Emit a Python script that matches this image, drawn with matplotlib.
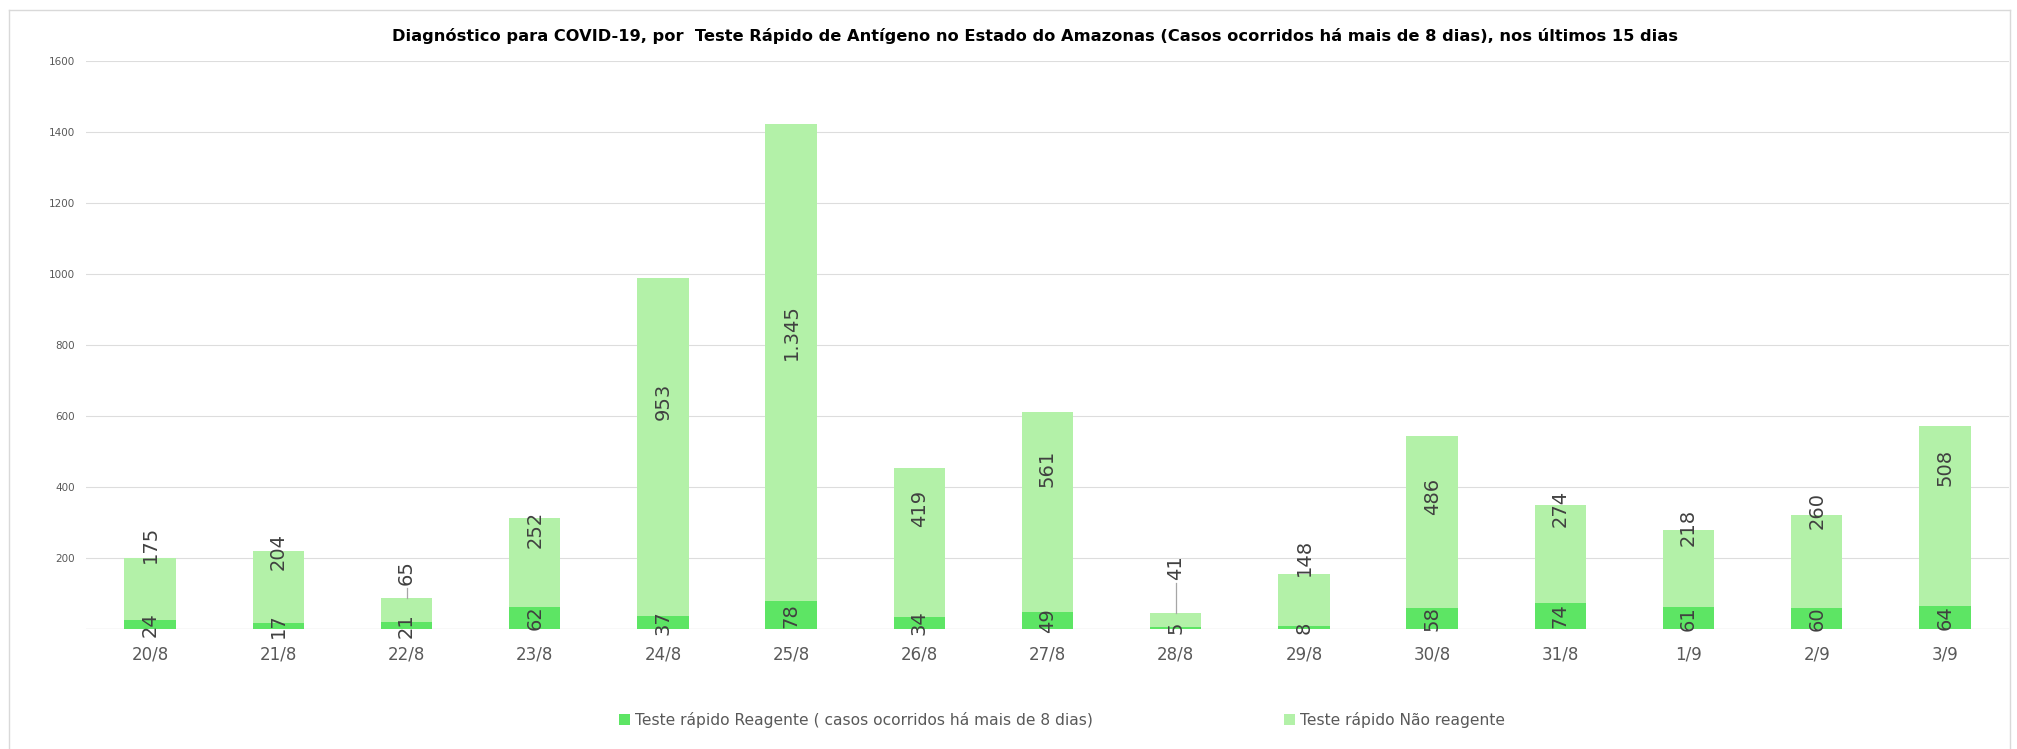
import matplotlib
matplotlib.use("Agg")
import matplotlib.pyplot as plt
from matplotlib.lines import Line2D
import numpy as np

# dados
dias = ["20/8", "21/8", "22/8", "23/8", "24/8", "25/8", "26/8", "27/8",
        "28/8", "29/8", "30/8", "31/8", "1/9", "2/9", "3/9"]
reagente = [24, 17, 21, 62, 37, 78, 34, 49, 5, 8, 58, 74, 61, 60, 64]
nao_reagente = [175, 204, 65, 252, 953, 1345, 419, 561, 41, 148, 486, 274, 218, 260, 508]
# altura (em casos) onde o rótulo de "Não reagente" foi colocado
rotulo_nao_y = [237, 218, 159, 282, 640, 837, 341, 452, 173, 201, 373, 339, 286, 334, 455]
yticks = [200, 400, 600, 800, 1000, 1200, 1400, 1600]

cor_reag = "#5de564"
cor_nao = "#b3f1a8"
cinza = "#595959"

def fmt(v):
    return f"{v:,}".replace(",", ".")

fig = plt.figure(figsize=(20.17, 7.49), dpi=100)
ax = fig.add_axes([86 / 2017, 120 / 749, 1923 / 2017, 568 / 749])

x = np.arange(len(dias))
b1 = ax.bar(x, reagente, width=0.4, color=cor_reag, label="Teste rápido Reagente ( casos ocorridos há mais de 8 dias)", zorder=3)
b2 = ax.bar(x, nao_reagente, width=0.4, bottom=reagente, color=cor_nao, label="Teste rápido Não reagente", zorder=3)

ax.set_xlim(-0.5, len(dias) - 0.5)
ax.set_ylim(0, 1600)
ax.set_yticks(yticks)
ax.set_yticklabels([str(t) for t in yticks], fontsize=7.5, color=cinza)
ax.set_xticks(x)
ax.set_xticklabels(dias, fontsize=12, color=cinza)
ax.tick_params(axis="both", length=0)
ax.tick_params(axis="x", pad=12)
ax.tick_params(axis="y", pad=8)
for s in ax.spines.values():
    s.set_visible(False)
ax.grid(axis="y", color="#dddddd", linewidth=0.8, zorder=0)
ax.axhline(0, color="#dddddd", linewidth=1.0, zorder=2)

# rótulos
for i in range(len(dias)):
    ax.text(x[i], reagente[i] / 2, fmt(reagente[i]), rotation=90, ha="center", va="center",
            fontsize=14, color="#404040", zorder=5)
labels_nao = []
for i in range(len(dias)):
    t = ax.text(x[i], rotulo_nao_y[i], fmt(nao_reagente[i]), rotation=90, ha="center", va="center",
                fontsize=14, color="#404040", zorder=5)
    labels_nao.append(t)

# linhas de chamada quando o rótulo fica acima da barra
fig.canvas.draw()
inv = ax.transData.inverted()
for i, t in enumerate(labels_nao):
    bb = t.get_window_extent()
    base = inv.transform((bb.x0, bb.y0 - 3))[1]
    topo = reagente[i] + nao_reagente[i]
    if base - topo > 20:
        ax.plot([x[i], x[i]], [topo, base], color="#a6a6a6", linewidth=0.9, zorder=4)

fig.suptitle("Diagnóstico para COVID-19, por  Teste Rápido de Antígeno no Estado do Amazonas (Casos ocorridos há mais de 8 dias), nos últimos 15 dias",
             x=1035 / 2017, y=1 - 36 / 749, va="center", fontsize=11.7, fontweight="bold",
             color="#000000")

leg = fig.legend(handles=[b1, b2], loc="center", bbox_to_anchor=(1062 / 2017, 1 - 720 / 749), ncol=2,
                 frameon=False, prop={"size": 11.2}, handlelength=0.7, handleheight=0.7,
                 handletextpad=0.3, columnspacing=12.3)
for txt in leg.get_texts():
    txt.set_color(cinza)

# moldura do gráfico
for xs, ys in [([9, 9], [10, 760]), ([9, 2010], [10, 10]), ([2010, 2010], [10, 760])]:
    fig.add_artist(Line2D([v / 2017 for v in xs], [1 - v / 749 for v in ys], color="#d9d9d9", linewidth=1))

fig.savefig("out.png", dpi=100)
